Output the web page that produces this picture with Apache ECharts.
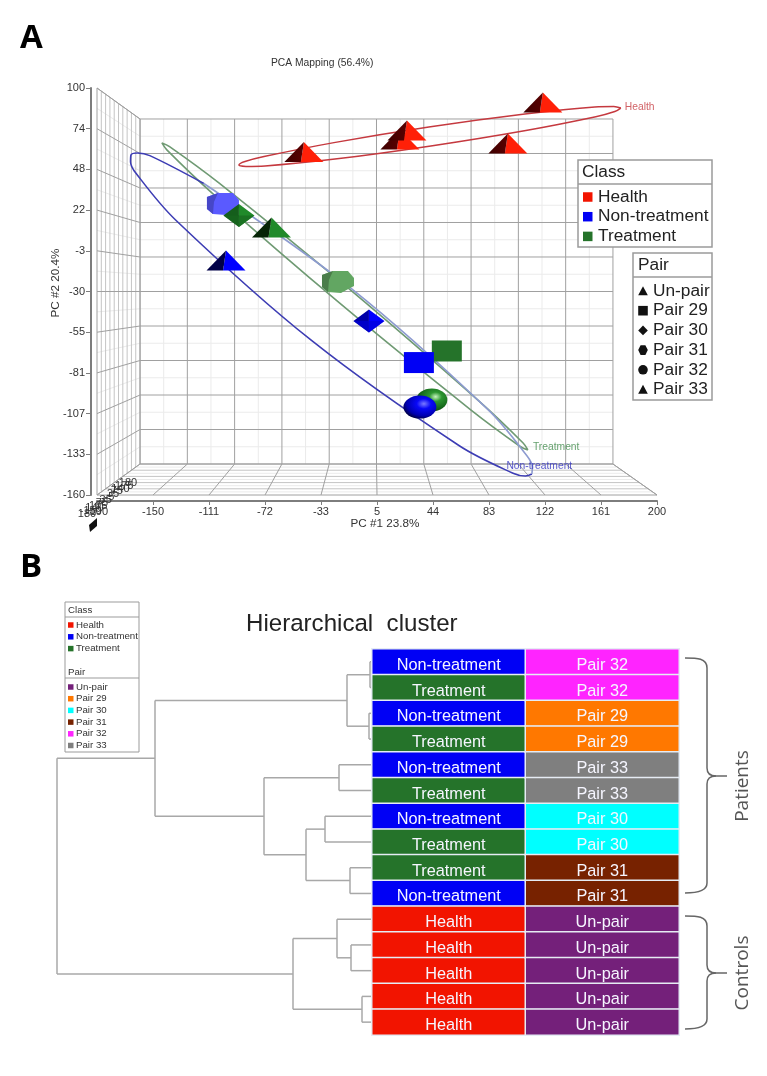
<!DOCTYPE html>
<html><head><meta charset="utf-8">
<style>html,body{margin:0;padding:0;background:#fff}#c{width:767px;height:1076px;filter:blur(0.35px)}</style>
<script src="https://cdn.jsdelivr.net/npm/echarts@6/dist/echarts.min.js"></script>
</head><body><div id="c"></div>
<script>
// ---------- Panel A data ----------
const xTickLabels = ['-190','-150','-111','-72','-33','5','44','83','122','161','200'];
const yTickLabels = ['-160','-133','-107','-81','-55','-30','-3','22','48','74','100'];
const depthLabels = ['180','-150','140','105','75','35','-5','35','75','140','175','180'];
const classNames = ['Health','Non-treatment','Treatment'];
const pairNames = ['Un-pair','Pair 29','Pair 30','Pair 31','Pair 32','Pair 33'];

const sampleClass = ['Health','Health','Health','Health','Health','Non-treatment','Treatment','Non-treatment','Treatment','Treatment','Non-treatment','Treatment','Non-treatment','Treatment','Non-treatment'];
const samplePair  = ['Un-pair','Un-pair','Un-pair','Un-pair','Un-pair','Pair 33','Pair 33','Pair 31','Pair 30','Pair 31','Pair 30','Pair 29','Pair 29','Pair 32','Pair 32'];
const samplePC1   = [21.4,26.3,-45.3,120.7,96.4,-99.4,-67.8,-101.5,-90.4,-21.6,-0.1,54,34.6,43.6,35.3];
const samplePC2   = [67.1,72.9,59.1,90.7,64.5,-10.2,10.9,25.9,18.6,-23.9,-48.8,-68,-75.4,-99.3,-103.8];

const healthEllipse = [[174.9,87.2],[170.7,85],[157.5,81.7],[108.9,72.9],[42.9,63],[-23.7,54.6],[-72.3,50.2],[-85.5,49.9],[-90.4,50.8],[-86.2,53],[-73,56.2],[-24.4,65.1],[41.5,75.1],[108.2,83.4],[156.8,87.9],[170,88.2],[174.9,87.2]];
const nonTreatmentEllipseFront = [[113.1,-146.6],[108.6,-147.9],[100,-146.1],[62.4,-128.4],[-40,-61.3],[-134.4,15.7],[-161.8,45.4],[-165.7,52.8],[-165.4,57.2],[-160.9,58.5],[-152.3,56.8],[-114.8,39]];
const nonTreatmentEllipseBack = [[-114.8,39],[-12.3,-28.1],[82.1,-105],[109.5,-134.8],[113.4,-142.2],[113.1,-146.6]];
const treatmentEllipse = [[110.3,-131.2],[105,-129],[70.4,-105.4],[-20.6,-37.3],[-109.4,33.2],[-140.5,60.5],[-143.9,64.9],[-138.6,62.6],[-103.9,39.1],[-13,-29],[75.8,-99.6],[107,-126.8],[110.3,-131.2]];
const ellipseLabels = [['Health',177.6,87.9],['Treatment',113.8,-129.3],['Non-treatment',95.4,-141.3]];

// ---------- Panel B data ----------
const rowClass = ['Non-treatment','Treatment','Non-treatment','Treatment','Non-treatment','Treatment','Non-treatment','Treatment','Treatment','Non-treatment','Health','Health','Health','Health','Health'];
const rowPair  = ['Pair 32','Pair 32','Pair 29','Pair 29','Pair 33','Pair 33','Pair 30','Pair 30','Pair 31','Pair 31','Un-pair','Un-pair','Un-pair','Un-pair','Un-pair'];
// each merge: [left child, right child, distance]; numbers are rows, strings are earlier merges
const merges = {
  n1:[0,1,2], n2:[2,3,3], n3:['n1','n2',25],
  n4:[4,5,33], n5:[6,7,47], n6:[8,9,22], n7:['n5','n6',66], n8:['n4','n7',108], n9:['n3','n8',217],
  n10:[11,12,21], n11:[10,'n10',35], n12:[13,14,10], n13:['n11','n12',79], n14:['n9','n13',315]
};

// ---------- Colours ----------
const classColor = {'Health':'#f21400','Non-treatment':'#0000f5','Treatment':'#25732a'};
const pairColor = {'Un-pair':'#74207a','Pair 29':'#ff7800','Pair 30':'#00ffff','Pair 31':'#772200','Pair 32':'#ff24ff','Pair 33':'#7f7f7f'};
const faces = {
  'Health':{dark:'#3c0000',mid:'#7a0000',bright:'#ff2008',soft:'#ff6050'},
  'Non-treatment':{dark:'#000048',mid:'#0000a8',bright:'#0000ff',soft:'#5a5aff'},
  'Treatment':{dark:'#062406',mid:'#155e1c',bright:'#208a2a',soft:'#62a662'}
};

// ---------- Box walls ----------
const X0=-189, X1=200, Y0=-160, Y1=100;
const BX0=-159.1, BX1=169.4, BY0=-140.2, BY1=80.2;
const xStep=38.9, yStep=26;
function project(x,y,t){
  const bx=BX0+(x-X0)/(X1-X0)*(BX1-BX0), by=BY0+(y-Y0)/(Y1-Y0)*(BY1-BY0);
  return [x+(bx-x)*t, y+(by-y)*t];
}
const wallLines=[];
function wall(a,b,w){wallLines.push([a[0],a[1],b[0],b[1],w]);}
for(let i=0;i<=20;i++){
  const x=X0+xStep*i/2, y=Y0+yStep*i/2, w=i%2?0:2;
  wall(project(x,Y0,1),project(x,Y1,1),w);
  wall(project(X0,y,1),project(X1,y,1),w);
  wall(project(X0,y,0),project(X0,y,1),w);
  if(i%2===0) wall(project(x,Y0,0),project(x,Y0,1),w);
}
for(let k=0;k<=10;k++){
  const t=k/10;
  wall(project(X0,Y0,t),project(X0,Y1,t),(k===0||k===10)?2:1);
  wall(project(X0,Y0,t),project(X1,Y0,t),(k===0||k===10)?2:(k%2?0:1));
}
wall(project(X0,Y1,0),project(X0,Y1,1),2);
wall(project(X1,Y0,0),project(X1,Y0,1),2);

// ---------- Dendrogram segments ----------
const dendroLines=[];
const nodePos={};
function pos(c){return typeof c==='number'?[0,c+0.5]:nodePos[c];}
Object.keys(merges).forEach(id=>{
  const m=merges[id], a=pos(m[0]), b=pos(m[1]), h=m[2];
  dendroLines.push([a[0],a[1],h,a[1]],[h,a[1],h,b[1]],[b[0],b[1],h,b[1]]);
  nodePos[id]=[h,(a[1]+b[1])/2];
});

// ---------- Heat cells ----------
const cells=[];
rowClass.forEach((c,i)=>cells.push({name:c,value:[0,i,classNames.indexOf(c)],itemStyle:{color:classColor[c]}}));
rowPair.forEach((p,i)=>cells.push({name:p,value:[1,i,pairNames.indexOf(p)],itemStyle:{color:pairColor[p]}}));

// ---------- Sample glyphs ----------
function glyph(cx,cy,cls,pair){
  const f=faces[cls], kids=[];
  const poly=(pts,fill,op)=>kids.push({type:'polygon',shape:{points:pts.map(p=>[cx+p[0],cy+p[1]])},style:{fill:fill,opacity:op==null?1:op}});
  if(pair==='Un-pair'||pair==='Pair 33'){
    const grad={type:'linear',x:0,y:0,x2:1,y2:0,colorStops:[{offset:0,color:f.dark},{offset:1,color:cls==='Health'?'#5a0000':f.dark}]};
    poly([[0,-10],[19.5,10],[-3,10]],f.bright);
    poly([[0,-10],[-3,10],[-19.5,10]],grad);
  } else if(pair==='Pair 30'){
    poly([[0,-11.5],[15.5,0],[0,11.5]],f.bright);
    poly([[0,-11.5],[0,11.5],[-15.5,0]],f.mid);
    poly([[-15.5,0],[0,11.5],[15.5,0]],cls==='Treatment'?'#17661f':'#0000d8',0.65);
  } else if(pair==='Pair 31'){
    poly([[-16,-7],[-5,-11],[10,-11],[16,-4],[16,4],[3,11],[-10,10],[-16,5]],f.soft);
    poly([[-16,-7],[-5,-11],[-9,-2],[-10,10],[-16,5]],cls==='Treatment'?'#4a7d4a':'#4646c8');
  } else if(pair==='Pair 29'){
    kids.push({type:'rect',shape:{x:cx-15,y:cy-10.5,width:30,height:21},style:{fill:classColor[cls]}});
  } else {
    const fill={type:'radial',x:0.62,y:0.36,r:0.72,colorStops:
      cls==='Treatment'?[{offset:0,color:'#c8f5c0'},{offset:0.28,color:'#2c9630'},{offset:0.7,color:'#14661a'},{offset:1,color:'#0a2e0a'}]
      :[{offset:0,color:'#7a7aff'},{offset:0.3,color:'#0808f8'},{offset:0.72,color:'#0000b0'},{offset:1,color:'#00002a'}]};
    kids.push({type:'circle',shape:{cx:0,cy:0,r:1},x:cx,y:cy,scaleX:cls==='Treatment'?15.5:16.5,scaleY:11.5,style:{fill:fill}});
  }
  return {type:'group',children:kids};
}

// ---------- Graphic helpers ----------
const gfx=[];
function txt(x,y,t,size,o){o=o||{};gfx.push({type:'text',z:100,x:x,y:y,rotation:o.rot||0,style:{text:t,fill:o.color||'#222',font:(o.weight||'normal')+' '+size+'px '+(o.family||'"Liberation Sans",Arial,sans-serif'),textAlign:o.align||'left',textVerticalAlign:'middle'}});}
function box(x,y,w,h,sw){gfx.push({type:'rect',z:99,shape:{x:x,y:y,width:w,height:h},style:{fill:'#fff',stroke:'#9b9b9b',lineWidth:sw}});}
function rule(x1,x2,y,sw){gfx.push({type:'line',z:100,shape:{x1:x1,y1:y,x2:x2,y2:y},style:{stroke:'#9b9b9b',lineWidth:sw}});}
function swatch(x,y,s,c){gfx.push({type:'rect',z:100,shape:{x:x,y:y-s/2,width:s,height:s},style:{fill:c}});}
function symbol(kind,cx,cy,r){
  const st={fill:'#111'};
  const pts={tri:[[0,-r],[r,r*.9],[-r,r*.9]],dia:[[0,-r],[r,0],[0,r],[-r,0]],hex:[[-r*.5,-r],[r*.5,-r],[r,0],[r*.5,r],[-r*.5,r],[-r,0]]}[kind];
  if(pts) gfx.push({type:'polygon',z:100,shape:{points:pts.map(p=>[cx+p[0],cy+p[1]])},style:st});
  else if(kind==='sq') gfx.push({type:'rect',z:100,shape:{x:cx-r,y:cy-r,width:2*r,height:2*r},style:st});
  else gfx.push({type:'circle',z:100,shape:{cx:cx,cy:cy,r:r},style:st});
}
// panel letters
txt(20,39,'A',33,{weight:'bold',family:'"Open Sans",sans-serif',color:'#000'});
txt(20,568,'B',33,{weight:'bold',family:'"Open Sans",sans-serif',color:'#000'});
// axis titles
txt(385,524,'PC #1 23.8%',11.7,{align:'center',color:'#333'});
txt(56,283,'PC #2 20.4%',11.7,{align:'center',rot:Math.PI/2,color:'#333'});
// depth axis
depthLabels.forEach((l,i)=>{const t=i/(depthLabels.length-1);txt(87+(128-87)*t,514+(483-514)*t,l,11,{align:'center',color:'#333'});});
gfx.push({type:'polygon',z:100,shape:{points:[[89,525],[97,518],[97,526],[90,532]]},style:{fill:'#111'}});
// class legend A
box(578,160,134,87,1.5); rule(578,712,184,1.5);
txt(582,172,'Class',17.3);
classNames.forEach((n,i)=>{const y=197+i*19.7;swatch(583,y,9.5,classColor[n]);txt(598,y,n,17.3);});
// pair legend A
box(633,253,79,147,1.5); rule(633,712,277,1.5);
txt(638,265,'Pair',17.3);
const pairSym=['tri','sq','dia','hex','cir','tri'];
pairNames.forEach((n,i)=>{const y=291+i*19.7;symbol(pairSym[i],643,y,4.8);txt(653,y,n,17.3);});
// legend B
box(65,602,74,150,1); rule(65,139,617,1); rule(65,139,678,1);
txt(68,610,'Class',9.7,{color:'#333'});
classNames.forEach((n,i)=>{const y=625+i*11.8;swatch(68,y,5.5,classColor[n]);txt(76,y,n,9.7,{color:'#333'});});
txt(68,672,'Pair',9.7,{color:'#333'});
pairNames.forEach((n,i)=>{const y=687+i*11.7;swatch(68,y,5.5,pairColor[n]);txt(76,y,n,9.7,{color:'#333'});});
// braces: [x1,y1, cx1,cy1, cx2,cy2, x2,y2]
function brace(top,mid,bot){
  const segs=[
    [685,top,697,top,707,top,707,top+10],
    [707,top+10,707,top+10,707,mid-8,707,mid-8],
    [707,mid-8,707,mid-2,710,mid,716,mid],
    [716,mid,716,mid,727,mid,727,mid],
    [716,mid,710,mid,707,mid+2,707,mid+8],
    [707,mid+8,707,mid+8,707,bot-10,707,bot-10],
    [707,bot-10,707,bot-2,697,bot,685,bot]
  ];
  segs.forEach(s=>gfx.push({type:'bezierCurve',z:100,shape:{x1:s[0],y1:s[1],cpx1:s[2],cpy1:s[3],cpx2:s[4],cpy2:s[5],x2:s[6],y2:s[7]},style:{fill:null,stroke:'#666',lineWidth:1.5}}));
}
brace(658,776,893);
brace(916,973,1029);
txt(743,786,'Patients',19,{align:'center',rot:Math.PI/2,color:'#555',family:'"Open Sans",sans-serif'});
txt(743,973,'Controls',19,{align:'center',rot:Math.PI/2,color:'#555',family:'"Open Sans",sans-serif'});

const axisGray='#7d7d7d', tickFont={fontSize:11,color:'#333',fontFamily:'"Liberation Sans",Arial,sans-serif'};
function ellipseSeries(name,data,color,w){return {type:'line',name:name,xAxisIndex:0,yAxisIndex:0,data:data,smooth:0.35,symbol:'none',lineStyle:{color:color,width:w},z:3,silent:true};}

const option={
  animation:false,
  backgroundColor:'#fff',
  title:[
    {text:'PCA Mapping (56.4%)',left:271,top:58,padding:0,textStyle:{fontSize:10.3,fontWeight:'normal',color:'#333',fontFamily:'"Liberation Sans",Arial,sans-serif'}},
    {text:'Hierarchical  cluster',left:246,top:612,padding:0,textStyle:{fontSize:24.1,fontWeight:'normal',color:'#222',fontFamily:'"Liberation Sans",Arial,sans-serif'}}
  ],
  grid:[
    {left:97,top:88,width:560,height:407},
    {left:57,top:649,width:315,height:386},
    {left:372,top:649,width:307,height:386}
  ],
  xAxis:[
    {type:'value',gridIndex:0,min:X0,max:X1,interval:xStep,offset:6,splitLine:{show:false},
      axisLine:{show:true,onZero:false,lineStyle:{color:axisGray,width:2}},axisTick:{show:true,length:4,lineStyle:{color:axisGray}},
      axisLabel:Object.assign({margin:5,showMinLabel:true,showMaxLabel:true,formatter:(v,i)=>xTickLabels[Math.round((v-X0)/xStep)]},tickFont)},
    {type:'value',gridIndex:1,min:0,max:315,inverse:true,show:false},
    {type:'category',gridIndex:2,data:['Class','Pair'],show:false}
  ],
  yAxis:[
    {type:'value',gridIndex:0,min:Y0,max:Y1,interval:yStep,offset:6,splitLine:{show:false},
      axisLine:{show:true,onZero:false,lineStyle:{color:axisGray,width:2}},axisTick:{show:true,length:5,lineStyle:{color:axisGray}},
      axisLabel:Object.assign({margin:6,showMinLabel:true,showMaxLabel:true,formatter:(v,i)=>yTickLabels[Math.round((v-Y0)/yStep)]},tickFont)},
    {type:'value',gridIndex:1,min:0,max:15,inverse:true,show:false},
    {type:'category',gridIndex:2,data:rowClass.map((c,i)=>i),inverse:true,show:false}
  ],
  series:[
    {type:'custom',name:'walls',xAxisIndex:0,yAxisIndex:0,data:wallLines,clip:false,silent:true,z:1,
      renderItem:(p,api)=>{
        const a=api.coord([api.value(0),api.value(1)]),b=api.coord([api.value(2),api.value(3)]),w=api.value(4);
        return {type:'line',z2:w===2?3:(w===1?2:1),shape:{x1:a[0],y1:a[1],x2:b[0],y2:b[1]},style:{stroke:w===2?'#a0a0a0':(w===1?'#c4c4c4':'#ebebeb'),lineWidth:1}};
      }},
    ellipseSeries('Health ellipse',healthEllipse,'#c5393f',1.5),
    ellipseSeries('Treatment ellipse',treatmentEllipse,'#6f9a73',1.6),
    ellipseSeries('Non-treatment ellipse',nonTreatmentEllipseFront,'#3d3db4',1.6),
    ellipseSeries('Non-treatment ellipse back',nonTreatmentEllipseBack,'#8d9bd0',1.6),
    {type:'scatter',name:'ellipse labels',xAxisIndex:0,yAxisIndex:0,symbolSize:0,z:4,silent:true,
      data:ellipseLabels.map(l=>({name:l[0],value:[l[1],l[2]],label:{color:{Health:'#c5393f',Treatment:'#3f8a4a','Non-treatment':'#3030c0'}[l[0]]}})),
      label:{show:true,position:'right',distance:0,formatter:'{b}',fontSize:10.3,fontFamily:'"Liberation Sans",Arial,sans-serif'}},
    {type:'custom',name:'samples',xAxisIndex:0,yAxisIndex:0,z:5,clip:false,silent:true,
      data:samplePC1.map((x,i)=>[x,samplePC2[i]]),
      renderItem:(p,api)=>{const i=p.dataIndex,c=api.coord([api.value(0),api.value(1)]);return glyph(c[0],c[1],sampleClass[i],samplePair[i]);}},
    {type:'custom',name:'dendrogram',xAxisIndex:1,yAxisIndex:1,data:dendroLines,clip:false,silent:true,z:2,
      renderItem:(p,api)=>{
        const a=api.coord([api.value(0),api.value(1)]),b=api.coord([api.value(2),api.value(3)]);
        return {type:'line',shape:{x1:a[0],y1:a[1],x2:b[0],y2:b[1]},style:{stroke:'#a8a8a8',lineWidth:1.5}};
      }},
    {type:'heatmap',name:'cluster labels',xAxisIndex:2,yAxisIndex:2,data:cells,silent:true,z:3,
      itemStyle:{borderColor:'#e6ecf4',borderWidth:1.5},
      label:{show:true,formatter:'{b}',offset:[0,3.5],color:'#f6f6ff',fontSize:16.3,fontFamily:'"Liberation Sans",Arial,sans-serif'}}
  ],
  graphic:{elements:gfx}
};
const chart=echarts.init(document.getElementById('c'),null,{renderer:'canvas'});
chart.setOption(option);
</script></body></html>
